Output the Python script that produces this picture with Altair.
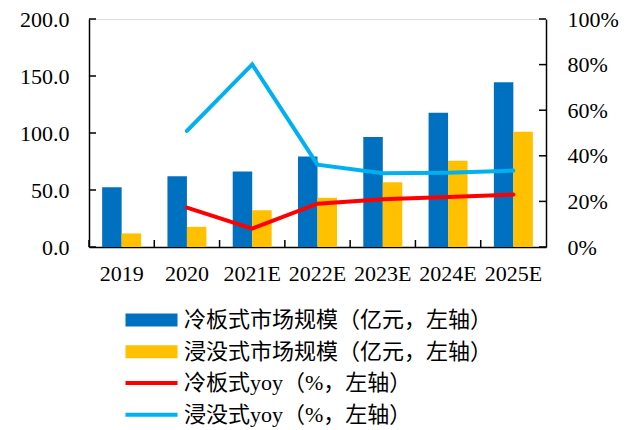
import altair as alt
import pandas as pd

years = ["2019", "2020", "2021E", "2022E", "2023E", "2024E", "2025E"]
cold_plate = [52.4, 62.0, 66.3, 79.4, 96.5, 117.7, 144.6]
immersion = [11.9, 17.7, 32.2, 43.2, 56.8, 75.7, 101.0]
cold_yoy = [None, 0.173, 0.081, 0.190, 0.209, 0.219, 0.230]
imm_yoy = [None, 0.509, 0.801, 0.361, 0.323, 0.326, 0.335]
left_ticks = [0, 50, 100, 150, 200]
right_ticks = [0, 0.2, 0.4, 0.6, 0.8, 1.0]

s_cold = "冷板式市场规模（亿元，左轴）"
s_imm = "浸没式市场规模（亿元，左轴）"
l_cold = "冷板式yoy（%，左轴）"
l_imm = "浸没式yoy（%，左轴）"

FONT = "Liberation Serif"
LFONT = "Liberation Serif, Noto Sans CJK SC"

bars_df = pd.DataFrame(
    [{"year": y, "series": s_cold, "v": v} for y, v in zip(years, cold_plate)]
    + [{"year": y, "series": s_imm, "v": v} for y, v in zip(years, immersion)]
)
lines_df = pd.DataFrame(
    [{"year": y, "series": l_cold, "v": v} for y, v in zip(years, cold_yoy) if v is not None]
    + [{"year": y, "series": l_imm, "v": v} for y, v in zip(years, imm_yoy) if v is not None]
)
lt_df = pd.DataFrame({"t": left_ticks})
rt_df = pd.DataFrame({"t": right_ticks})
yr_df = pd.DataFrame({"year": years})

W, H = 457, 228

xscale = alt.Scale(domain=years, paddingInner=0, paddingOuter=0)
yleft = alt.Scale(domain=[0, 200], nice=False)
yright = alt.Scale(domain=[0, 1], nice=False)

x_axis = alt.Axis(
    title=None, ticks=False, labelFont=FONT, labelFontSize=22, labelColor="#000",
    labelPadding=16, domainColor="#000", domainWidth=1.5, labelAngle=0,
)

legend_common = dict(
    title=None, orient="none", legendX=51.5, direction="vertical",
    symbolSize=169, labelFont=LFONT, labelFontSize=22, labelColor="#000",
    labelOffset=21.5, rowPadding=9.7, padding=0, labelLimit=400,
)

bars = alt.Chart(bars_df).mark_bar().encode(
    x=alt.X("year:N", scale=xscale, axis=x_axis, sort=years),
    xOffset=alt.XOffset("series:N", scale=alt.Scale(domain=[s_cold, s_imm], paddingInner=0, paddingOuter=0.675)),
    y=alt.Y("v:Q", scale=yleft, axis=alt.Axis(
        title=None, ticks=False, values=left_ticks, format=".1f", labelFont=FONT,
        labelFontSize=22, labelColor="#000", labelPadding=20, domainColor="#000",
        domainWidth=1.5, grid=False)),
    fill=alt.Fill("series:N", scale=alt.Scale(domain=[s_cold, s_imm], range=["#0070C0", "#FFC000"]),
                  legend=alt.Legend(legendY=290, symbolType="M-4,-1H4V1H-4Z",
                                    symbolStrokeWidth=0, **legend_common)),
)

left_tick_rules = alt.Chart(lt_df).mark_rule(color="#000", strokeWidth=1.5).encode(
    y=alt.Y("t:Q", scale=yleft),
    x=alt.value(0), x2=alt.value(7),
)

x_tick_rules = alt.Chart(yr_df).mark_rule(color="#000", strokeWidth=1.5).encode(
    x=alt.X("year:N", scale=xscale, bandPosition=0, sort=years),
    y=alt.value(H - 7), y2=alt.value(H),
)

left = alt.layer(bars, left_tick_rules, x_tick_rules)

lines = alt.Chart(lines_df).mark_line(strokeWidth=4, strokeCap="round", strokeJoin="miter").encode(
    x=alt.X("year:N", scale=xscale, sort=years),
    y=alt.Y("v:Q", scale=yright, axis=alt.Axis(
        title=None, orient="right", ticks=False, values=right_ticks, format=".0%",
        labelFont=FONT, labelFontSize=22, labelColor="#000", labelPadding=21,
        domainColor="#000", domainWidth=1.5, grid=False)),
    stroke=alt.Stroke("series:N", scale=alt.Scale(domain=[l_cold, l_imm], range=["#FF0000", "#00B0F0"]),
                      legend=alt.Legend(legendY=353, symbolType="M-4,0H4",
                                        symbolStrokeWidth=4, **legend_common)),
)

right_tick_rules = alt.Chart(rt_df).mark_rule(color="#000", strokeWidth=1.5).encode(
    y=alt.Y("t:Q", scale=yright),
    x=alt.value(W - 7), x2=alt.value(W),
)

right = alt.layer(lines, right_tick_rules)

chart = alt.layer(left, right).resolve_scale(
    y="independent", fill="independent", stroke="independent"
).properties(
    width=W, height=H,
    autosize=alt.AutoSizeParams(type="none"),
    padding={"left": 81, "top": 11, "right": 78, "bottom": 185},
).configure_view(stroke=None).configure(background="white")

chart.save("out.html", embed_options={"renderer": "svg", "actions": False})
